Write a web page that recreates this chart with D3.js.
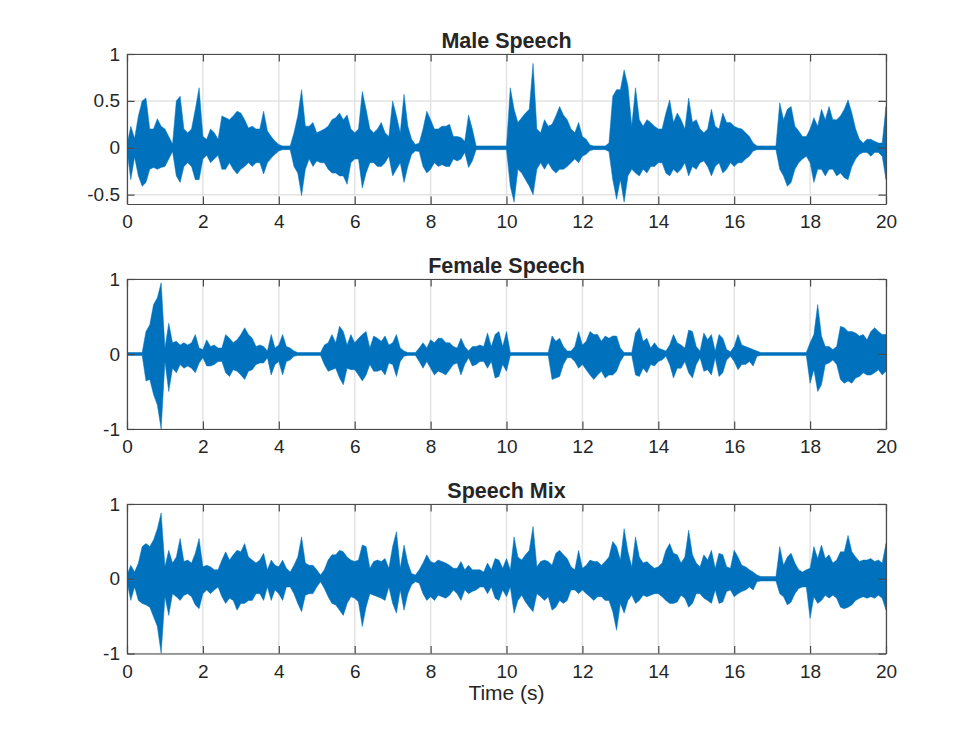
<!DOCTYPE html>
<html>
<head>
<meta charset="utf-8">
<script src="https://cdn.jsdelivr.net/npm/d3@7"></script>
<style>
  body { margin: 0; background: #ffffff; }
  svg { display: block; }
  text { font-family: "Liberation Sans", Arial, Helvetica, sans-serif; fill: #262626; }
</style>
</head>
<body>
<svg id="chart" width="980" height="735"></svg>
<script>
// ---------------- DATA ----------------
const panelTitles = ["Male Speech", "Female Speech", "Speech Mix"];
const xLabel = "Time (s)";
const xTickValues = [0, 2, 4, 6, 8, 10, 12, 14, 16, 18, 20];
const yTicksMale = [-0.5, 0, 0.5, 1];
const yTicksFemale = [-1, 0, 1];
const yTicksMix = [-1, 0, 1];
const yDomainMale = [-0.6, 1];
const yDomainFemale = [-1, 1];
const yDomainMix = [-1, 1];
const sampleStep = 0.1; // seconds between envelope readings

// Upper / lower envelope of each waveform, one reading every 0.1 s (0 .. 20 s)
const maleMax = [
  0.03,0.23,0.10,0.34,0.50,0.53,0.20,0.20,0.31,0.23,
  0.20,0.12,0.04,0.50,0.55,0.20,0.16,0.20,0.41,0.64,
  0.12,0.09,0.20,0.16,0.09,0.34,0.32,0.30,0.34,0.39,
  0.37,0.30,0.21,0.23,0.20,0.20,0.39,0.18,0.12,0.07,
  0.035,0.02,0.02,0.02,0.16,0.34,0.62,0.23,0.23,0.27,
  0.16,0.18,0.20,0.23,0.30,0.32,0.37,0.30,0.35,0.20,
  0.16,0.20,0.60,0.41,0.20,0.16,0.20,0.27,0.16,0.12,
  0.50,0.34,0.16,0.57,0.23,0.09,0.035,0.05,0.20,0.39,
  0.30,0.20,0.20,0.23,0.23,0.25,0.12,0.12,0.11,0.07,
  0.35,0.20,0.02,0.02,0.02,0.02,0.02,0.02,0.02,0.02,
  0.02,0.64,0.41,0.27,0.32,0.37,0.41,0.90,0.20,0.16,
  0.30,0.23,0.25,0.34,0.44,0.35,0.30,0.20,0.16,0.27,
  0.12,0.09,0.03,0.02,0.02,0.02,0.02,0.05,0.55,0.62,
  0.62,0.83,0.66,0.23,0.64,0.30,0.23,0.30,0.27,0.23,
  0.20,0.20,0.37,0.51,0.27,0.37,0.30,0.20,0.53,0.27,
  0.30,0.20,0.16,0.20,0.41,0.23,0.20,0.37,0.27,0.27,
  0.23,0.21,0.20,0.16,0.12,0.05,0.02,0.02,0.02,0.02,
  0.02,0.02,0.48,0.30,0.41,0.44,0.23,0.18,0.12,0.12,
  0.20,0.32,0.23,0.41,0.30,0.44,0.30,0.30,0.34,0.41,
  0.51,0.37,0.20,0.09,0.05,0.09,0.09,0.07,0.05,0.05,
  0.44
];
const maleMin = [
  -0.03,-0.34,-0.10,-0.30,-0.41,-0.37,-0.23,-0.21,-0.23,-0.21,
  -0.20,-0.12,-0.04,-0.30,-0.37,-0.20,-0.16,-0.20,-0.34,-0.34,
  -0.12,-0.08,-0.16,-0.12,-0.08,-0.23,-0.23,-0.16,-0.23,-0.28,
  -0.23,-0.20,-0.16,-0.20,-0.16,-0.16,-0.28,-0.16,-0.11,-0.07,
  -0.035,-0.02,-0.02,-0.02,-0.20,-0.27,-0.51,-0.23,-0.12,-0.20,
  -0.14,-0.16,-0.16,-0.23,-0.27,-0.27,-0.30,-0.30,-0.39,-0.16,
  -0.12,-0.12,-0.43,-0.27,-0.16,-0.16,-0.20,-0.20,-0.16,-0.09,
  -0.30,-0.23,-0.16,-0.37,-0.20,-0.07,-0.035,-0.04,-0.20,-0.27,
  -0.23,-0.16,-0.20,-0.18,-0.20,-0.20,-0.12,-0.14,-0.12,-0.05,
  -0.21,-0.14,-0.02,-0.02,-0.02,-0.02,-0.02,-0.02,-0.02,-0.02,
  -0.02,-0.41,-0.58,-0.23,-0.27,-0.34,-0.41,-0.50,-0.23,-0.16,
  -0.23,-0.16,-0.23,-0.27,-0.23,-0.23,-0.20,-0.16,-0.12,-0.16,
  -0.09,-0.07,-0.03,-0.02,-0.02,-0.02,-0.02,-0.04,-0.34,-0.55,
  -0.34,-0.58,-0.30,-0.23,-0.27,-0.30,-0.23,-0.27,-0.20,-0.20,
  -0.16,-0.16,-0.27,-0.30,-0.23,-0.27,-0.23,-0.16,-0.30,-0.20,
  -0.23,-0.16,-0.14,-0.20,-0.30,-0.20,-0.16,-0.27,-0.23,-0.16,
  -0.20,-0.16,-0.16,-0.12,-0.09,-0.035,-0.02,-0.02,-0.02,-0.02,
  -0.02,-0.02,-0.23,-0.30,-0.41,-0.37,-0.23,-0.16,-0.12,-0.09,
  -0.16,-0.37,-0.23,-0.23,-0.30,-0.23,-0.23,-0.30,-0.27,-0.32,
  -0.34,-0.20,-0.12,-0.07,-0.05,-0.05,-0.09,-0.05,-0.05,-0.09,
  -0.34
];
const femaleMax = [
  0.02,0.02,0.02,0.02,0.02,0.30,0.39,0.66,0.75,0.95,
  0.08,0.41,0.15,0.17,0.12,0.15,0.12,0.15,0.26,0.08,
  0.06,0.19,0.10,0.12,0.08,0.08,0.26,0.21,0.15,0.19,
  0.26,0.35,0.26,0.21,0.10,0.12,0.10,0.04,0.26,0.08,
  0.12,0.26,0.10,0.08,0.04,0.02,0.02,0.02,0.02,0.02,
  0.02,0.02,0.12,0.15,0.26,0.15,0.37,0.30,0.12,0.26,
  0.15,0.21,0.26,0.30,0.08,0.24,0.21,0.17,0.24,0.12,
  0.15,0.26,0.08,0.04,0.02,0.02,0.02,0.08,0.15,0.08,
  0.19,0.15,0.21,0.21,0.15,0.15,0.10,0.08,0.21,0.10,
  0.04,0.10,0.10,0.12,0.10,0.28,0.10,0.26,0.30,0.10,
  0.30,0.02,0.02,0.02,0.02,0.02,0.02,0.02,0.02,0.02,
  0.02,0.02,0.24,0.17,0.21,0.10,0.04,0.04,0.10,0.30,
  0.12,0.17,0.30,0.26,0.26,0.17,0.24,0.21,0.24,0.24,
  0.08,0.02,0.02,0.02,0.28,0.35,0.17,0.21,0.08,0.15,
  0.08,0.06,0.04,0.12,0.26,0.15,0.12,0.08,0.32,0.30,
  0.10,0.04,0.28,0.19,0.26,0.04,0.26,0.21,0.06,0.03,
  0.10,0.26,0.12,0.10,0.08,0.06,0.04,0.02,0.02,0.02,
  0.02,0.02,0.02,0.02,0.02,0.02,0.02,0.02,0.02,0.02,
  0.15,0.26,0.66,0.24,0.10,0.10,0.06,0.10,0.37,0.35,
  0.30,0.30,0.28,0.24,0.26,0.19,0.30,0.35,0.30,0.26,
  0.26
];
const femaleMin = [
  -0.02,-0.02,-0.02,-0.02,-0.02,-0.36,-0.34,-0.54,-0.68,-1.00,
  -0.10,-0.50,-0.19,-0.25,-0.14,-0.19,-0.16,-0.19,-0.25,-0.12,
  -0.05,-0.16,-0.16,-0.14,-0.10,-0.10,-0.25,-0.30,-0.21,-0.23,
  -0.28,-0.34,-0.23,-0.21,-0.14,-0.12,-0.12,-0.05,-0.28,-0.14,
  -0.10,-0.28,-0.10,-0.08,-0.03,-0.02,-0.02,-0.02,-0.02,-0.02,
  -0.02,-0.02,-0.14,-0.23,-0.21,-0.19,-0.32,-0.41,-0.19,-0.21,
  -0.21,-0.28,-0.36,-0.28,-0.14,-0.23,-0.23,-0.21,-0.28,-0.12,
  -0.14,-0.30,-0.10,-0.03,-0.02,-0.02,-0.02,-0.10,-0.19,-0.10,
  -0.19,-0.28,-0.23,-0.25,-0.28,-0.21,-0.14,-0.12,-0.28,-0.14,
  -0.05,-0.16,-0.14,-0.10,-0.10,-0.19,-0.10,-0.32,-0.30,-0.14,
  -0.23,-0.02,-0.02,-0.02,-0.02,-0.02,-0.02,-0.02,-0.02,-0.02,
  -0.02,-0.02,-0.34,-0.32,-0.30,-0.14,-0.05,-0.05,-0.10,-0.19,
  -0.14,-0.21,-0.28,-0.34,-0.28,-0.23,-0.32,-0.28,-0.28,-0.23,
  -0.10,-0.02,-0.02,-0.02,-0.28,-0.30,-0.19,-0.25,-0.14,-0.16,
  -0.10,-0.08,-0.03,-0.14,-0.32,-0.19,-0.19,-0.10,-0.25,-0.32,
  -0.14,-0.05,-0.23,-0.21,-0.28,-0.05,-0.30,-0.25,-0.08,-0.03,
  -0.10,-0.21,-0.14,-0.14,-0.10,-0.16,-0.03,-0.02,-0.02,-0.02,
  -0.02,-0.02,-0.02,-0.02,-0.02,-0.02,-0.02,-0.02,-0.02,-0.02,
  -0.39,-0.21,-0.50,-0.41,-0.14,-0.12,-0.08,-0.14,-0.34,-0.39,
  -0.36,-0.39,-0.32,-0.30,-0.25,-0.28,-0.28,-0.25,-0.21,-0.28,
  -0.23
];
const mixMax = [
  0.05,0.18,0.09,0.21,0.43,0.47,0.43,0.52,0.67,0.88,
  0.16,0.38,0.21,0.29,0.54,0.23,0.25,0.21,0.34,0.54,
  0.16,0.18,0.16,0.12,0.12,0.25,0.36,0.25,0.32,0.38,
  0.36,0.47,0.29,0.25,0.21,0.25,0.34,0.12,0.25,0.18,
  0.16,0.25,0.14,0.09,0.18,0.29,0.56,0.21,0.18,0.18,
  0.12,0.05,0.12,0.25,0.32,0.32,0.38,0.36,0.29,0.25,
  0.23,0.25,0.45,0.43,0.14,0.23,0.25,0.23,0.27,0.14,
  0.43,0.63,0.14,0.45,0.21,0.07,0.05,0.12,0.21,0.32,
  0.23,0.21,0.25,0.23,0.21,0.18,0.14,0.14,0.23,0.12,
  0.18,0.12,0.12,0.12,0.09,0.21,0.12,0.27,0.25,0.14,
  0.27,0.12,0.56,0.29,0.25,0.32,0.38,0.70,0.16,0.23,
  0.25,0.23,0.18,0.34,0.38,0.32,0.27,0.16,0.12,0.38,
  0.14,0.18,0.25,0.23,0.23,0.18,0.23,0.29,0.50,0.43,
  0.25,0.67,0.36,0.16,0.56,0.29,0.21,0.23,0.18,0.14,
  0.16,0.21,0.38,0.47,0.34,0.32,0.21,0.29,0.65,0.32,
  0.21,0.16,0.32,0.25,0.38,0.14,0.34,0.32,0.16,0.14,
  0.38,0.29,0.18,0.16,0.12,0.09,0.05,0.03,0.03,0.03,
  0.03,0.03,0.43,0.18,0.29,0.34,0.21,0.12,0.09,0.12,
  0.14,0.43,0.27,0.45,0.27,0.32,0.21,0.25,0.36,0.36,
  0.58,0.36,0.29,0.23,0.25,0.25,0.27,0.23,0.25,0.21,
  0.47
];
const mixMin = [
  -0.04,-0.29,-0.11,-0.29,-0.33,-0.35,-0.38,-0.51,-0.64,-1.00,
  -0.24,-0.49,-0.20,-0.24,-0.29,-0.22,-0.20,-0.24,-0.35,-0.40,
  -0.20,-0.15,-0.20,-0.15,-0.11,-0.24,-0.33,-0.26,-0.29,-0.42,
  -0.33,-0.33,-0.29,-0.29,-0.20,-0.20,-0.29,-0.11,-0.29,-0.15,
  -0.20,-0.29,-0.11,-0.11,-0.20,-0.33,-0.44,-0.22,-0.20,-0.20,
  -0.11,-0.04,-0.13,-0.24,-0.33,-0.35,-0.42,-0.49,-0.33,-0.24,
  -0.26,-0.31,-0.64,-0.38,-0.20,-0.22,-0.24,-0.26,-0.29,-0.11,
  -0.33,-0.46,-0.15,-0.42,-0.20,-0.08,-0.04,-0.06,-0.20,-0.29,
  -0.24,-0.29,-0.22,-0.24,-0.26,-0.22,-0.15,-0.20,-0.29,-0.15,
  -0.20,-0.17,-0.15,-0.11,-0.11,-0.20,-0.11,-0.26,-0.29,-0.15,
  -0.24,-0.11,-0.46,-0.29,-0.22,-0.31,-0.38,-0.44,-0.20,-0.24,
  -0.29,-0.24,-0.42,-0.38,-0.29,-0.33,-0.29,-0.15,-0.15,-0.20,
  -0.15,-0.20,-0.24,-0.29,-0.24,-0.24,-0.29,-0.29,-0.44,-0.69,
  -0.33,-0.46,-0.29,-0.22,-0.33,-0.29,-0.22,-0.24,-0.22,-0.20,
  -0.20,-0.24,-0.29,-0.33,-0.33,-0.31,-0.22,-0.26,-0.38,-0.33,
  -0.20,-0.20,-0.26,-0.29,-0.33,-0.15,-0.33,-0.31,-0.17,-0.15,
  -0.24,-0.20,-0.17,-0.15,-0.11,-0.15,-0.04,-0.03,-0.03,-0.03,
  -0.03,-0.03,-0.20,-0.24,-0.35,-0.31,-0.20,-0.13,-0.11,-0.11,
  -0.53,-0.24,-0.33,-0.29,-0.22,-0.26,-0.22,-0.26,-0.38,-0.40,
  -0.38,-0.35,-0.29,-0.26,-0.24,-0.26,-0.24,-0.26,-0.22,-0.26,
  -0.42
];

// ---------------- DRAWING ----------------
const svg = d3.select("#chart");
const plotLeft = 127, plotRight = 886;
const panels = [
  { title: panelTitles[0], top: 54, height: 150, yDomain: yDomainMale, yTicks: yTicksMale, hi: maleMax, lo: maleMin },
  { title: panelTitles[1], top: 279, height: 150, yDomain: yDomainFemale, yTicks: yTicksFemale, hi: femaleMax, lo: femaleMin },
  { title: panelTitles[2], top: 504, height: 149.5, yDomain: yDomainMix, yTicks: yTicksMix, hi: mixMax, lo: mixMin }
];
const waveColor = "#0072BD";
const axisColor = "#4a4a4a";
const gridColor = "#e3e3e3";
const tickLen = 7.6;
const fontStack = '"Liberation Sans", Arial, Helvetica, sans-serif';

const x = d3.scaleLinear().domain([0, 20]).range([plotLeft, plotRight]);

panels.forEach((p, pi) => {
  const y = d3.scaleLinear().domain(p.yDomain).range([p.top + p.height, p.top]);
  const g = svg.append("g");
  const bottom = p.top + p.height;

  // grid
  g.append("g").selectAll("line").data(xTickValues).join("line")
    .attr("x1", d => x(d)).attr("x2", d => x(d))
    .attr("y1", p.top).attr("y2", bottom)
    .attr("stroke", gridColor).attr("stroke-width", 1.5);
  g.append("g").selectAll("line").data(p.yTicks).join("line")
    .attr("x1", plotLeft).attr("x2", plotRight)
    .attr("y1", d => y(d)).attr("y2", d => y(d))
    .attr("stroke", gridColor).attr("stroke-width", 1.5);

  // waveform envelope
  const clipId = "clip" + pi;
  svg.append("clipPath").attr("id", clipId).append("rect")
    .attr("x", plotLeft).attr("y", p.top).attr("width", plotRight - plotLeft).attr("height", p.height);
  const pts = p.hi.map((v, i) => ({ t: i * sampleStep, hi: v, lo: p.lo[i] }));
  const area = d3.area().x(d => x(d.t)).y0(d => y(d.lo)).y1(d => y(d.hi)).curve(d3.curveLinear);
  g.append("path").datum(pts)
    .attr("clip-path", `url(#${clipId})`)
    .attr("d", area)
    .attr("fill", waveColor)
    .attr("stroke", waveColor).attr("stroke-width", 0.5);

  // axes (box + ticks inside)
  const xAxisB = d3.axisBottom(x).tickValues(xTickValues).tickSizeInner(-tickLen).tickSizeOuter(0).tickFormat(d => String(d)).tickPadding(11);
  const xAxisT = d3.axisTop(x).tickValues(xTickValues).tickSizeInner(-tickLen).tickSizeOuter(0).tickFormat("");
  const yAxisL = d3.axisLeft(y).tickValues(p.yTicks).tickSizeInner(-tickLen).tickSizeOuter(0).tickFormat(d => String(d)).tickPadding(7);
  const yAxisR = d3.axisRight(y).tickValues(p.yTicks).tickSizeInner(-tickLen).tickSizeOuter(0).tickFormat("");

  const styleAxis = sel => {
    sel.selectAll("path.domain").attr("stroke", axisColor).attr("stroke-width", 1.2);
    sel.selectAll(".tick line").attr("stroke", axisColor).attr("stroke-width", 1.2);
    sel.selectAll("text").attr("fill", "#262626").style("font-size", "19px").style("font-family", fontStack);
  };
  g.append("g").attr("transform", `translate(0,${bottom})`).call(xAxisB).call(styleAxis);
  g.append("g").attr("transform", `translate(0,${p.top})`).call(xAxisT).call(styleAxis);
  g.append("g").attr("transform", `translate(${plotLeft},0)`).call(yAxisL).call(styleAxis);
  g.append("g").attr("transform", `translate(${plotRight},0)`).call(yAxisR).call(styleAxis);

  // title
  g.append("text")
    .attr("x", (plotLeft + plotRight) / 2).attr("y", p.top - 6)
    .attr("text-anchor", "middle")
    .style("font-size", "21.5px").style("font-weight", "bold").style("font-family", fontStack)
    .attr("fill", "#000")
    .text(p.title);
});

// x label
svg.append("text")
  .attr("x", (plotLeft + plotRight) / 2).attr("y", 700)
  .attr("text-anchor", "middle")
  .style("font-size", "21px").style("font-family", fontStack)
  .text(xLabel);
</script>
</body>
</html>
